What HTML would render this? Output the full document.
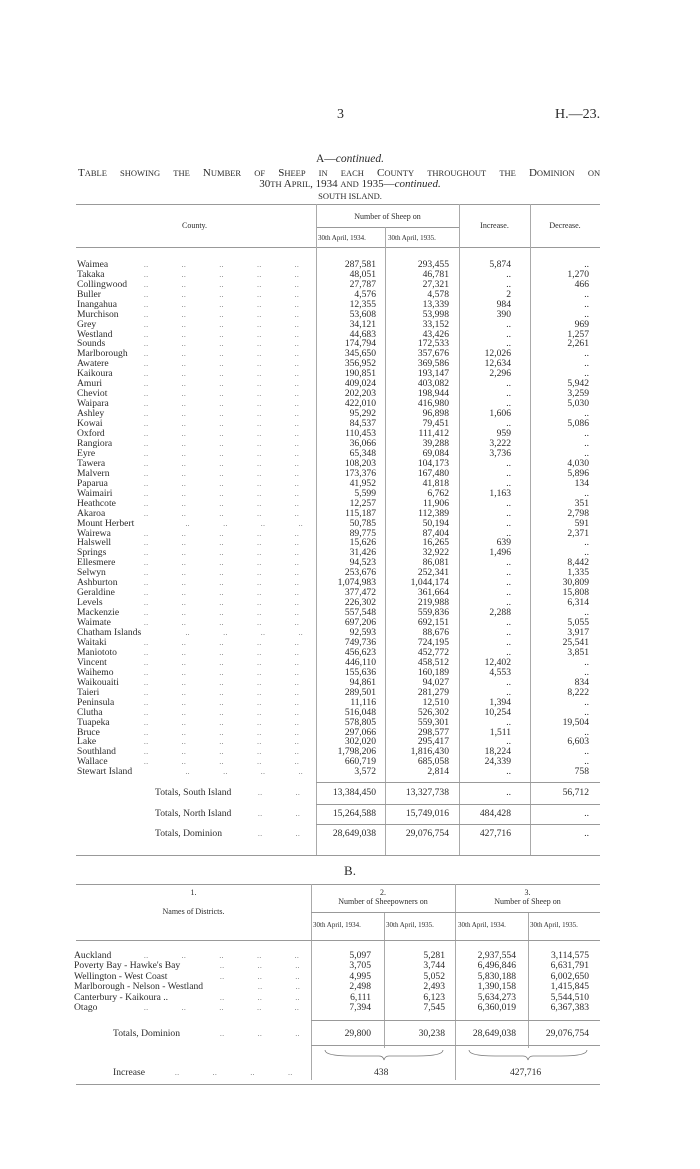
<!DOCTYPE html>
<html><head><meta charset="utf-8"><style>
body{margin:0;background:#fff}
#p{position:relative;width:700px;height:1169px;font-family:"Liberation Serif",serif;color:#2a2a2a;overflow:hidden}
.t{position:absolute;white-space:nowrap}
.r{position:absolute;left:0;width:700px;height:10px;font-size:9.6px;line-height:10px;white-space:pre}
.r span{position:absolute}
.n{left:77px}
.r .dt{left:144px;font-size:7px;letter-spacing:0.5px;word-spacing:1.9px;color:#555}
.a{right:324px}.b{right:251px}.c{right:189px}.d{right:111px}
.h{position:absolute;background:#999;height:1px}
.v{position:absolute;background:#aaa;width:1px}
.just{position:absolute;left:78px;width:522px;text-align:justify;text-align-last:justify;white-space:normal}
</style></head><body><div id="p">
<div class="t" style="left:337px;top:107px;font-size:14px">3</div>
<div class="t" style="left:555px;top:107px;font-size:14px">H.—23.</div>
<div class="t" style="left:0;width:700px;text-align:center;top:153px;font-size:11.5px">A—<i>continued.</i></div>
<div class="just" style="top:167px;font-size:11px">T<span style="font-size:8.5px">ABLE</span> <span style="font-size:8.5px">SHOWING</span> <span style="font-size:8.5px">THE</span> N<span style="font-size:8.5px">UMBER</span> <span style="font-size:8.5px">OF</span> S<span style="font-size:8.5px">HEEP</span> <span style="font-size:8.5px">IN</span> <span style="font-size:8.5px">EACH</span> C<span style="font-size:8.5px">OUNTY</span> <span style="font-size:8.5px">THROUGHOUT</span> <span style="font-size:8.5px">THE</span> D<span style="font-size:8.5px">OMINION</span> <span style="font-size:8.5px">ON</span></div>
<div class="t" style="left:0;width:700px;text-align:center;top:178px;font-size:11px">30<span style="font-size:8.5px">TH</span> A<span style="font-size:8.5px">PRIL</span>, 1934 <span style="font-size:8.5px">AND</span> 1935—<i>continued.</i></div>
<div class="t" style="left:0;width:700px;text-align:center;top:191px;font-size:8.5px">SOUTH ISLAND.</div>

<div class="h" style="left:76px;width:524px;top:204px"></div>
<div class="h" style="left:316px;width:143px;top:227px"></div>
<div class="h" style="left:76px;width:524px;top:247px"></div>
<div class="v" style="left:316px;top:204px;height:651px"></div>
<div class="v" style="left:385px;top:227px;height:628px"></div>
<div class="v" style="left:459px;top:204px;height:651px"></div>
<div class="v" style="left:530px;top:204px;height:651px"></div>
<div class="t" style="left:182px;top:221px;font-size:8px">County.</div>
<div class="t" style="left:316px;width:143px;text-align:center;top:212px;font-size:8px">Number of Sheep on</div>
<div class="t" style="left:318px;top:234px;font-size:7px">30th April, 1934.</div>
<div class="t" style="left:388px;top:234px;font-size:7px">30th April, 1935.</div>
<div class="t" style="left:459px;width:71px;text-align:center;top:221px;font-size:8px">Increase.</div>
<div class="t" style="left:530px;width:70px;text-align:center;top:221px;font-size:8px">Decrease.</div>

<div class="r" style="top:260px"><span class="n">Waimea</span><span class="dt">..        ..        ..        ..        ..</span><span class="a">287,581</span><span class="b">293,455</span><span class="c">5,874</span><span class="d">..</span></div>
<div class="r" style="top:270px"><span class="n">Takaka</span><span class="dt">..        ..        ..        ..        ..</span><span class="a">48,051</span><span class="b">46,781</span><span class="c">..</span><span class="d">1,270</span></div>
<div class="r" style="top:280px"><span class="n">Collingwood</span><span class="dt">..        ..        ..        ..        ..</span><span class="a">27,787</span><span class="b">27,321</span><span class="c">..</span><span class="d">466</span></div>
<div class="r" style="top:290px"><span class="n">Buller</span><span class="dt">..        ..        ..        ..        ..</span><span class="a">4,576</span><span class="b">4,578</span><span class="c">2</span><span class="d">..</span></div>
<div class="r" style="top:300px"><span class="n">Inangahua</span><span class="dt">..        ..        ..        ..        ..</span><span class="a">12,355</span><span class="b">13,339</span><span class="c">984</span><span class="d">..</span></div>
<div class="r" style="top:310px"><span class="n">Murchison</span><span class="dt">..        ..        ..        ..        ..</span><span class="a">53,608</span><span class="b">53,998</span><span class="c">390</span><span class="d">..</span></div>
<div class="r" style="top:320px"><span class="n">Grey</span><span class="dt">..        ..        ..        ..        ..</span><span class="a">34,121</span><span class="b">33,152</span><span class="c">..</span><span class="d">969</span></div>
<div class="r" style="top:330px"><span class="n">Westland</span><span class="dt">..        ..        ..        ..        ..</span><span class="a">44,683</span><span class="b">43,426</span><span class="c">..</span><span class="d">1,257</span></div>
<div class="r" style="top:339px"><span class="n">Sounds</span><span class="dt">..        ..        ..        ..        ..</span><span class="a">174,794</span><span class="b">172,533</span><span class="c">..</span><span class="d">2,261</span></div>
<div class="r" style="top:349px"><span class="n">Marlborough</span><span class="dt">..        ..        ..        ..        ..</span><span class="a">345,650</span><span class="b">357,676</span><span class="c">12,026</span><span class="d">..</span></div>
<div class="r" style="top:359px"><span class="n">Awatere</span><span class="dt">..        ..        ..        ..        ..</span><span class="a">356,952</span><span class="b">369,586</span><span class="c">12,634</span><span class="d">..</span></div>
<div class="r" style="top:369px"><span class="n">Kaikoura</span><span class="dt">..        ..        ..        ..        ..</span><span class="a">190,851</span><span class="b">193,147</span><span class="c">2,296</span><span class="d">..</span></div>
<div class="r" style="top:379px"><span class="n">Amuri</span><span class="dt">..        ..        ..        ..        ..</span><span class="a">409,024</span><span class="b">403,082</span><span class="c">..</span><span class="d">5,942</span></div>
<div class="r" style="top:389px"><span class="n">Cheviot</span><span class="dt">..        ..        ..        ..        ..</span><span class="a">202,203</span><span class="b">198,944</span><span class="c">..</span><span class="d">3,259</span></div>
<div class="r" style="top:399px"><span class="n">Waipara</span><span class="dt">..        ..        ..        ..        ..</span><span class="a">422,010</span><span class="b">416,980</span><span class="c">..</span><span class="d">5,030</span></div>
<div class="r" style="top:409px"><span class="n">Ashley</span><span class="dt">..        ..        ..        ..        ..</span><span class="a">95,292</span><span class="b">96,898</span><span class="c">1,606</span><span class="d">..</span></div>
<div class="r" style="top:419px"><span class="n">Kowai</span><span class="dt">..        ..        ..        ..        ..</span><span class="a">84,537</span><span class="b">79,451</span><span class="c">..</span><span class="d">5,086</span></div>
<div class="r" style="top:429px"><span class="n">Oxford</span><span class="dt">..        ..        ..        ..        ..</span><span class="a">110,453</span><span class="b">111,412</span><span class="c">959</span><span class="d">..</span></div>
<div class="r" style="top:439px"><span class="n">Rangiora</span><span class="dt">..        ..        ..        ..        ..</span><span class="a">36,066</span><span class="b">39,288</span><span class="c">3,222</span><span class="d">..</span></div>
<div class="r" style="top:449px"><span class="n">Eyre</span><span class="dt">..        ..        ..        ..        ..</span><span class="a">65,348</span><span class="b">69,084</span><span class="c">3,736</span><span class="d">..</span></div>
<div class="r" style="top:459px"><span class="n">Tawera</span><span class="dt">..        ..        ..        ..        ..</span><span class="a">108,203</span><span class="b">104,173</span><span class="c">..</span><span class="d">4,030</span></div>
<div class="r" style="top:469px"><span class="n">Malvern</span><span class="dt">..        ..        ..        ..        ..</span><span class="a">173,376</span><span class="b">167,480</span><span class="c">..</span><span class="d">5,896</span></div>
<div class="r" style="top:479px"><span class="n">Paparua</span><span class="dt">..        ..        ..        ..        ..</span><span class="a">41,952</span><span class="b">41,818</span><span class="c">..</span><span class="d">134</span></div>
<div class="r" style="top:489px"><span class="n">Waimairi</span><span class="dt">..        ..        ..        ..        ..</span><span class="a">5,599</span><span class="b">6,762</span><span class="c">1,163</span><span class="d">..</span></div>
<div class="r" style="top:499px"><span class="n">Heathcote</span><span class="dt">..        ..        ..        ..        ..</span><span class="a">12,257</span><span class="b">11,906</span><span class="c">..</span><span class="d">351</span></div>
<div class="r" style="top:509px"><span class="n">Akaroa</span><span class="dt">..        ..        ..        ..        ..</span><span class="a">115,187</span><span class="b">112,389</span><span class="c">..</span><span class="d">2,798</span></div>
<div class="r" style="top:519px"><span class="n">Mount Herbert</span><span class="dt">          ..        ..        ..        ..</span><span class="a">50,785</span><span class="b">50,194</span><span class="c">..</span><span class="d">591</span></div>
<div class="r" style="top:529px"><span class="n">Wairewa</span><span class="dt">..        ..        ..        ..        ..</span><span class="a">89,775</span><span class="b">87,404</span><span class="c">..</span><span class="d">2,371</span></div>
<div class="r" style="top:538px"><span class="n">Halswell</span><span class="dt">..        ..        ..        ..        ..</span><span class="a">15,626</span><span class="b">16,265</span><span class="c">639</span><span class="d">..</span></div>
<div class="r" style="top:548px"><span class="n">Springs</span><span class="dt">..        ..        ..        ..        ..</span><span class="a">31,426</span><span class="b">32,922</span><span class="c">1,496</span><span class="d">..</span></div>
<div class="r" style="top:558px"><span class="n">Ellesmere</span><span class="dt">..        ..        ..        ..        ..</span><span class="a">94,523</span><span class="b">86,081</span><span class="c">..</span><span class="d">8,442</span></div>
<div class="r" style="top:568px"><span class="n">Selwyn</span><span class="dt">..        ..        ..        ..        ..</span><span class="a">253,676</span><span class="b">252,341</span><span class="c">..</span><span class="d">1,335</span></div>
<div class="r" style="top:578px"><span class="n">Ashburton</span><span class="dt">..        ..        ..        ..        ..</span><span class="a">1,074,983</span><span class="b">1,044,174</span><span class="c">..</span><span class="d">30,809</span></div>
<div class="r" style="top:588px"><span class="n">Geraldine</span><span class="dt">..        ..        ..        ..        ..</span><span class="a">377,472</span><span class="b">361,664</span><span class="c">..</span><span class="d">15,808</span></div>
<div class="r" style="top:598px"><span class="n">Levels</span><span class="dt">..        ..        ..        ..        ..</span><span class="a">226,302</span><span class="b">219,988</span><span class="c">..</span><span class="d">6,314</span></div>
<div class="r" style="top:608px"><span class="n">Mackenzie</span><span class="dt">..        ..        ..        ..        ..</span><span class="a">557,548</span><span class="b">559,836</span><span class="c">2,288</span><span class="d">..</span></div>
<div class="r" style="top:618px"><span class="n">Waimate</span><span class="dt">..        ..        ..        ..        ..</span><span class="a">697,206</span><span class="b">692,151</span><span class="c">..</span><span class="d">5,055</span></div>
<div class="r" style="top:628px"><span class="n">Chatham Islands</span><span class="dt">          ..        ..        ..        ..</span><span class="a">92,593</span><span class="b">88,676</span><span class="c">..</span><span class="d">3,917</span></div>
<div class="r" style="top:638px"><span class="n">Waitaki</span><span class="dt">..        ..        ..        ..        ..</span><span class="a">749,736</span><span class="b">724,195</span><span class="c">..</span><span class="d">25,541</span></div>
<div class="r" style="top:648px"><span class="n">Maniototo</span><span class="dt">..        ..        ..        ..        ..</span><span class="a">456,623</span><span class="b">452,772</span><span class="c">..</span><span class="d">3,851</span></div>
<div class="r" style="top:658px"><span class="n">Vincent</span><span class="dt">..        ..        ..        ..        ..</span><span class="a">446,110</span><span class="b">458,512</span><span class="c">12,402</span><span class="d">..</span></div>
<div class="r" style="top:668px"><span class="n">Waihemo</span><span class="dt">..        ..        ..        ..        ..</span><span class="a">155,636</span><span class="b">160,189</span><span class="c">4,553</span><span class="d">..</span></div>
<div class="r" style="top:678px"><span class="n">Waikouaiti</span><span class="dt">..        ..        ..        ..        ..</span><span class="a">94,861</span><span class="b">94,027</span><span class="c">..</span><span class="d">834</span></div>
<div class="r" style="top:688px"><span class="n">Taieri</span><span class="dt">..        ..        ..        ..        ..</span><span class="a">289,501</span><span class="b">281,279</span><span class="c">..</span><span class="d">8,222</span></div>
<div class="r" style="top:698px"><span class="n">Peninsula</span><span class="dt">..        ..        ..        ..        ..</span><span class="a">11,116</span><span class="b">12,510</span><span class="c">1,394</span><span class="d">..</span></div>
<div class="r" style="top:708px"><span class="n">Clutha</span><span class="dt">..        ..        ..        ..        ..</span><span class="a">516,048</span><span class="b">526,302</span><span class="c">10,254</span><span class="d">..</span></div>
<div class="r" style="top:718px"><span class="n">Tuapeka</span><span class="dt">..        ..        ..        ..        ..</span><span class="a">578,805</span><span class="b">559,301</span><span class="c">..</span><span class="d">19,504</span></div>
<div class="r" style="top:728px"><span class="n">Bruce</span><span class="dt">..        ..        ..        ..        ..</span><span class="a">297,066</span><span class="b">298,577</span><span class="c">1,511</span><span class="d">..</span></div>
<div class="r" style="top:737px"><span class="n">Lake</span><span class="dt">..        ..        ..        ..        ..</span><span class="a">302,020</span><span class="b">295,417</span><span class="c">..</span><span class="d">6,603</span></div>
<div class="r" style="top:747px"><span class="n">Southland</span><span class="dt">..        ..        ..        ..        ..</span><span class="a">1,798,206</span><span class="b">1,816,430</span><span class="c">18,224</span><span class="d">..</span></div>
<div class="r" style="top:757px"><span class="n">Wallace</span><span class="dt">..        ..        ..        ..        ..</span><span class="a">660,719</span><span class="b">685,058</span><span class="c">24,339</span><span class="d">..</span></div>
<div class="r" style="top:767px"><span class="n">Stewart Island</span><span class="dt">          ..        ..        ..        ..</span><span class="a">3,572</span><span class="b">2,814</span><span class="c">..</span><span class="d">758</span></div>

<div class="h" style="left:316px;width:284px;top:782px"></div>
<div class="r" style="top:788px"><span class="n" style="left:155px">Totals, South Island</span><span class="dt" style="left:258px">..        ..</span><span class="a">13,384,450</span><span class="b">13,327,738</span><span class="c">..</span><span class="d">56,712</span></div>
<div class="h" style="left:316px;width:284px;top:804px"></div>
<div class="r" style="top:809px"><span class="n" style="left:155px">Totals, North Island</span><span class="dt" style="left:258px">..        ..</span><span class="a">15,264,588</span><span class="b">15,749,016</span><span class="c">484,428</span><span class="d">..</span></div>
<div class="h" style="left:316px;width:284px;top:824px"></div>
<div class="r" style="top:829px"><span class="n" style="left:155px">Totals, Dominion</span><span class="dt" style="left:258px">..        ..</span><span class="a">28,649,038</span><span class="b">29,076,754</span><span class="c">427,716</span><span class="d">..</span></div>
<div class="h" style="left:76px;width:524px;top:855px"></div>

<div class="t" style="left:0;width:700px;text-align:center;top:863px;font-size:13px">B.</div>
<div class="h" style="left:76px;width:524px;top:884px"></div>
<div class="v" style="left:311px;top:884px;height:196px"></div>
<div class="v" style="left:384px;top:912px;height:136px"></div>
<div class="v" style="left:455px;top:884px;height:196px"></div>
<div class="v" style="left:528px;top:912px;height:136px"></div>
<div class="h" style="left:311px;width:289px;top:912px"></div>
<div class="h" style="left:76px;width:524px;top:940px"></div>
<div class="t" style="left:76px;width:235px;text-align:center;top:888px;font-size:8px">1.</div>
<div class="t" style="left:76px;width:235px;text-align:center;top:907px;font-size:8px">Names of Districts.</div>
<div class="t" style="left:311px;width:144px;text-align:center;top:888px;font-size:8px">2.<br>Number of Sheepowners on</div>
<div class="t" style="left:455px;width:145px;text-align:center;top:888px;font-size:8px">3.<br>Number of Sheep on</div>
<div class="t" style="left:313px;top:921px;font-size:7px">30th April, 1934.</div>
<div class="t" style="left:386px;top:921px;font-size:7px">30th April, 1935.</div>
<div class="t" style="left:458px;top:921px;font-size:7px">30th April, 1934.</div>
<div class="t" style="left:530px;top:921px;font-size:7px">30th April, 1935.</div>
<style>.e{right:329px}.f{right:255px}.g{right:184px}.k{right:111px}</style>
<div class="r" style="top:951px"><span class="n" style="left:74px">Auckland</span><span class="dt">..        ..        ..        ..        ..</span><span class="e">5,097</span><span class="f">5,281</span><span class="g">2,937,554</span><span class="k">3,114,575</span></div>
<div class="r" style="top:961px"><span class="n" style="left:74px">Poverty Bay - Hawke's Bay</span><span class="dt" style="left:220px">..        ..        ..</span><span class="e">3,705</span><span class="f">3,744</span><span class="g">6,496,846</span><span class="k">6,631,791</span></div>
<div class="r" style="top:972px"><span class="n" style="left:74px">Wellington - West Coast</span><span class="dt" style="left:220px">..        ..        ..</span><span class="e">4,995</span><span class="f">5,052</span><span class="g">5,830,188</span><span class="k">6,002,650</span></div>
<div class="r" style="top:982px"><span class="n" style="left:74px">Marlborough - Nelson - Westland</span><span class="dt" style="left:258px">..        ..</span><span class="e">2,498</span><span class="f">2,493</span><span class="g">1,390,158</span><span class="k">1,415,845</span></div>
<div class="r" style="top:993px"><span class="n" style="left:74px">Canterbury - Kaikoura ..</span><span class="dt" style="left:220px">..        ..        ..</span><span class="e">6,111</span><span class="f">6,123</span><span class="g">5,634,273</span><span class="k">5,544,510</span></div>
<div class="r" style="top:1003px"><span class="n" style="left:74px">Otago</span><span class="dt">..        ..        ..        ..        ..</span><span class="e">7,394</span><span class="f">7,545</span><span class="g">6,360,019</span><span class="k">6,367,383</span></div>
<div class="h" style="left:311px;width:289px;top:1020px"></div>
<div class="r" style="top:1029px"><span class="n" style="left:113px">Totals, Dominion</span><span class="dt" style="left:220px">..        ..        ..</span><span class="e">29,800</span><span class="f">30,238</span><span class="g">28,649,038</span><span class="k">29,076,754</span></div>
<div class="h" style="left:311px;width:289px;top:1045px"></div>
<svg class="t" style="left:311px;top:1048px" width="289" height="14"><path d="M14 2 Q14 8 40 8 L68 8 Q72 8 73 12 Q74 8 78 8 L106 8 Q132 8 132 2 M158 2 Q158 8 184 8 L212 8 Q216 8 217 12 Q218 8 222 8 L250 8 Q276 8 276 2" fill="none" stroke="#777" stroke-width="0.8"/></svg>
<div class="r" style="top:1068px"><span class="n" style="left:113px">Increase</span><span class="dt" style="left:175px">..        ..        ..        ..</span><span style="left:374px">438</span><span style="left:510px">427,716</span></div>
<div class="h" style="left:76px;width:524px;top:1084px"></div>
</div></body></html>
